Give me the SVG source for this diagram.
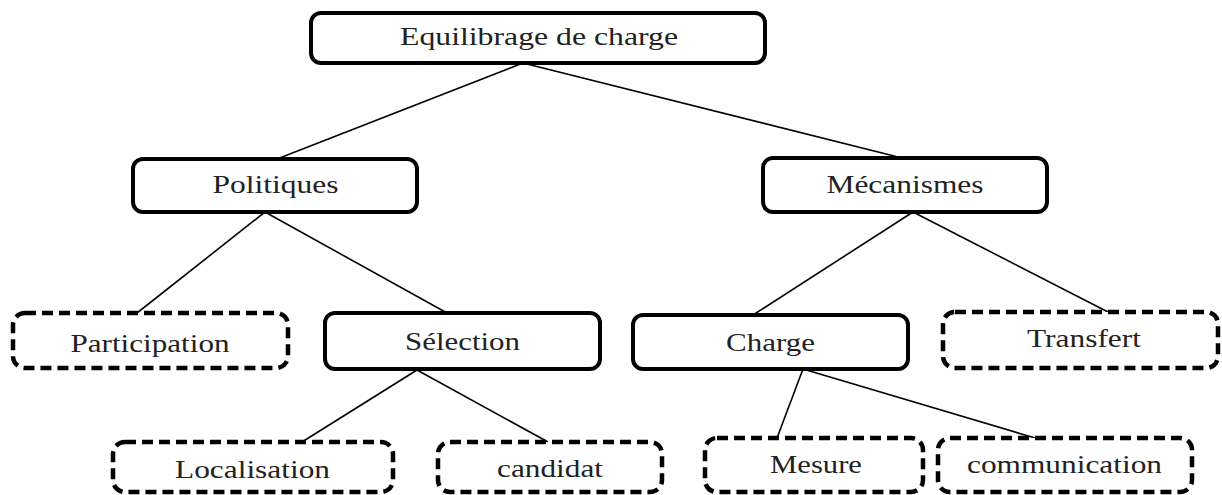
<svg xmlns="http://www.w3.org/2000/svg" width="1222" height="495" viewBox="0 0 1222 495">
  <style>
    .box { fill: #ffffff; stroke: #000000; stroke-width: 4; }
    .dashed { stroke-width: 4.5; stroke-dasharray: 11 6; }
    .label { font-family: "Liberation Serif", "Times New Roman", serif; font-size: 26px; fill: #222222; text-anchor: middle; }
    .link { stroke: #000000; stroke-width: 1.6; fill: none; }
  </style>
  <rect width="1222" height="495" fill="#ffffff"/>

  <!-- tree edges -->
  <g id="connectors">
    <line class="link" x1="523" y1="63" x2="277" y2="159"/>
    <line class="link" x1="523" y1="63" x2="902" y2="158"/>
    <line class="link" x1="265" y1="212" x2="137" y2="313"/>
    <line class="link" x1="265" y1="212" x2="447" y2="313"/>
    <line class="link" x1="913" y1="212" x2="753" y2="315"/>
    <line class="link" x1="913" y1="212" x2="1108" y2="312"/>
    <line class="link" x1="417" y1="370" x2="302" y2="442"/>
    <line class="link" x1="417" y1="370" x2="548" y2="442"/>
    <line class="link" x1="803" y1="369" x2="777" y2="438"/>
    <line class="link" x1="803" y1="369" x2="1035" y2="438"/>
  </g>

  <g id="root">
    <rect class="box" x="311" y="13" width="454" height="50" rx="10"/>
    <text class="label" x="539" y="45" textLength="278" lengthAdjust="spacingAndGlyphs">Equilibrage de charge</text>
  </g>

  <g id="politiques">
    <rect class="box" x="133" y="159" width="284" height="53" rx="10"/>
    <text class="label" x="275.5" y="193" textLength="126" lengthAdjust="spacingAndGlyphs">Politiques</text>
  </g>

  <g id="mecanismes">
    <rect class="box" x="763" y="158" width="284" height="54" rx="10"/>
    <text class="label" x="905" y="193" textLength="157" lengthAdjust="spacingAndGlyphs">Mécanismes</text>
  </g>

  <g id="participation">
    <rect class="box dashed" x="13" y="313" width="275" height="55" rx="12"/>
    <text class="label" x="150" y="352" textLength="159" lengthAdjust="spacingAndGlyphs">Participation</text>
  </g>

  <g id="selection">
    <rect class="box" x="325" y="313" width="275" height="56" rx="10"/>
    <text class="label" x="462.5" y="350" textLength="115" lengthAdjust="spacingAndGlyphs">Sélection</text>
  </g>

  <g id="charge">
    <rect class="box" x="633" y="315" width="275" height="54" rx="10"/>
    <text class="label" x="770.5" y="351" textLength="89" lengthAdjust="spacingAndGlyphs">Charge</text>
  </g>

  <g id="transfert">
    <rect class="box dashed" x="943" y="312" width="275" height="56" rx="12"/>
    <text class="label" x="1084" y="347" textLength="114" lengthAdjust="spacingAndGlyphs">Transfert</text>
  </g>

  <g id="localisation">
    <rect class="box dashed" x="113" y="442" width="280" height="50" rx="12"/>
    <text class="label" x="252.5" y="478" textLength="155" lengthAdjust="spacingAndGlyphs">Localisation</text>
  </g>

  <g id="candidat">
    <rect class="box dashed" x="438" y="442" width="224" height="50" rx="12"/>
    <text class="label" x="550" y="477" textLength="106" lengthAdjust="spacingAndGlyphs">candidat</text>
  </g>

  <g id="mesure">
    <rect class="box dashed" x="705" y="438" width="218" height="54" rx="12"/>
    <text class="label" x="816" y="473" textLength="92" lengthAdjust="spacingAndGlyphs">Mesure</text>
  </g>

  <g id="communication">
    <rect class="box dashed" x="938" y="438" width="254" height="54" rx="12"/>
    <text class="label" x="1064.5" y="473" textLength="195" lengthAdjust="spacingAndGlyphs">communication</text>
  </g>
</svg>
